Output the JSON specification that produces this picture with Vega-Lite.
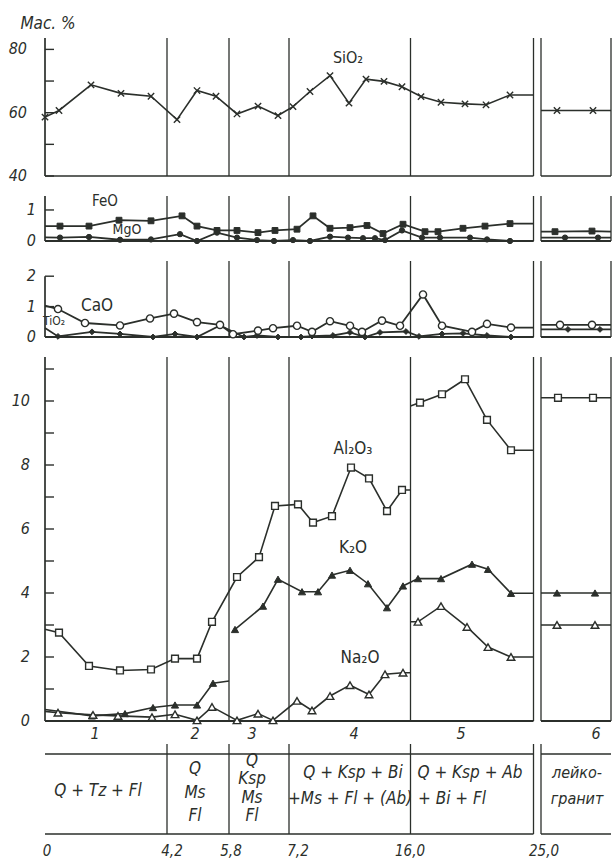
{
 "$schema": "https://vega.github.io/schema/vega-lite/v6.json",
 "autosize": {"type": "pad"},
 "padding": 0,
 "background": "#ffffff",
 "spacing": 20,
 "bounds": "flush",
 "config": {
  "view": {"stroke": null},
  "text": {"font": "Liberation Sans Narrow, DejaVu Sans Condensed, Liberation Sans, sans-serif", "color": "#2b2f2b"}
 },
 "datasets": {
  "zl": [{"p": 122}, {"p": 184}, {"p": 244}, {"p": 365.5}, {"p": 488.5}, {"p": 496}, {"p": 566}],
  "tl": [{"p": 122}, {"p": 184}, {"p": 244}, {"p": 365.5}, {"p": 488.5}, {"p": 496}],
  "bl": [{"a": 0, "b": 488.5}, {"a": 496, "b": 566}],
  "zn": [{"z": "1", "p": 50}, {"z": "2", "p": 150}, {"z": "3", "p": 207}, {"z": "4", "p": 309}, {"z": "5", "p": 416}, {"z": "6", "p": 551}],
  "bt": [{"t": "0", "p": 2}, {"t": "4,2", "p": 127}, {"t": "5,8", "p": 186}, {"t": "7,2", "p": 253}, {"t": "16,0", "p": 365}, {"t": "25,0", "p": 499}],
  "ax": [
   {"k": "si", "v": 40, "t": "40"}, {"k": "si", "v": 50, "t": ""}, {"k": "si", "v": 60, "t": "60"}, {"k": "si", "v": 70, "t": ""}, {"k": "si", "v": 80, "t": "80"},
   {"k": "fe", "v": 0, "t": "0"}, {"k": "fe", "v": 1, "t": "1"},
   {"k": "ca", "v": 0, "t": "0"}, {"k": "ca", "v": 1, "t": "1"}, {"k": "ca", "v": 2, "t": "2"},
   {"k": "bg", "v": 0, "t": "0"}, {"k": "bg", "v": 1, "t": ""}, {"k": "bg", "v": 2, "t": "2"}, {"k": "bg", "v": 3, "t": ""}, {"k": "bg", "v": 4, "t": "4"}, {"k": "bg", "v": 5, "t": ""},
   {"k": "bg", "v": 6, "t": "6"}, {"k": "bg", "v": 7, "t": ""}, {"k": "bg", "v": 8, "t": "8"}, {"k": "bg", "v": 9, "t": ""}, {"k": "bg", "v": 10, "t": "10"}, {"k": "bg", "v": 11, "t": ""}
  ],
  "obs": [
   {"s": "SiO2", "g": "si1", "p": 0, "v": 58.6, "m": 1},
   {"s": "SiO2", "g": "si1", "p": 14, "v": 60.7, "m": 1},
   {"s": "SiO2", "g": "si1", "p": 46, "v": 68.8, "m": 1},
   {"s": "SiO2", "g": "si1", "p": 76, "v": 66.1, "m": 1},
   {"s": "SiO2", "g": "si1", "p": 106, "v": 65.2, "m": 1},
   {"s": "SiO2", "g": "si1", "p": 132, "v": 57.8, "m": 1},
   {"s": "SiO2", "g": "si1", "p": 152, "v": 67.0, "m": 1},
   {"s": "SiO2", "g": "si1", "p": 171, "v": 65.2, "m": 1},
   {"s": "SiO2", "g": "si1", "p": 192, "v": 59.6, "m": 1},
   {"s": "SiO2", "g": "si1", "p": 213, "v": 62.1, "m": 1},
   {"s": "SiO2", "g": "si1", "p": 233, "v": 59.1, "m": 1},
   {"s": "SiO2", "g": "si1", "p": 248, "v": 61.9, "m": 1},
   {"s": "SiO2", "g": "si1", "p": 265, "v": 66.7, "m": 1},
   {"s": "SiO2", "g": "si1", "p": 285, "v": 71.7, "m": 1},
   {"s": "SiO2", "g": "si1", "p": 304, "v": 63.0, "m": 1},
   {"s": "SiO2", "g": "si1", "p": 321, "v": 70.6, "m": 1},
   {"s": "SiO2", "g": "si1", "p": 339, "v": 69.9, "m": 1},
   {"s": "SiO2", "g": "si1", "p": 357, "v": 68.2, "m": 1},
   {"s": "SiO2", "g": "si1", "p": 376, "v": 65.1, "m": 1},
   {"s": "SiO2", "g": "si1", "p": 396, "v": 63.3, "m": 1},
   {"s": "SiO2", "g": "si1", "p": 420, "v": 62.8, "m": 1},
   {"s": "SiO2", "g": "si1", "p": 441, "v": 62.5, "m": 1},
   {"s": "SiO2", "g": "si1", "p": 465, "v": 65.6, "m": 1},
   {"s": "SiO2", "g": "si1", "p": 488.5, "v": 65.6, "m": 0},
   {"s": "SiO2", "g": "si6", "p": 496, "v": 60.7, "m": 0},
   {"s": "SiO2", "g": "si6", "p": 512, "v": 60.7, "m": 1},
   {"s": "SiO2", "g": "si6", "p": 548, "v": 60.7, "m": 1},
   {"s": "SiO2", "g": "si6", "p": 566, "v": 60.7, "m": 0},

   {"s": "FeO", "g": "fe1", "p": 0, "v": 0.48, "m": 0},
   {"s": "FeO", "g": "fe1", "p": 15, "v": 0.48, "m": 1},
   {"s": "FeO", "g": "fe1", "p": 44, "v": 0.48, "m": 1},
   {"s": "FeO", "g": "fe1", "p": 74, "v": 0.67, "m": 1},
   {"s": "FeO", "g": "fe1", "p": 106, "v": 0.65, "m": 1},
   {"s": "FeO", "g": "fe1", "p": 137, "v": 0.81, "m": 1},
   {"s": "FeO", "g": "fe1", "p": 152, "v": 0.48, "m": 1},
   {"s": "FeO", "g": "fe1", "p": 172, "v": 0.34, "m": 1},
   {"s": "FeO", "g": "fe1", "p": 192, "v": 0.34, "m": 1},
   {"s": "FeO", "g": "fe1", "p": 213, "v": 0.27, "m": 1},
   {"s": "FeO", "g": "fe1", "p": 230, "v": 0.34, "m": 1},
   {"s": "FeO", "g": "fe1", "p": 252, "v": 0.38, "m": 1},
   {"s": "FeO", "g": "fe1", "p": 268, "v": 0.81, "m": 1},
   {"s": "FeO", "g": "fe1", "p": 285, "v": 0.41, "m": 1},
   {"s": "FeO", "g": "fe1", "p": 305, "v": 0.43, "m": 1},
   {"s": "FeO", "g": "fe1", "p": 322, "v": 0.5, "m": 1},
   {"s": "FeO", "g": "fe1", "p": 338, "v": 0.24, "m": 1},
   {"s": "FeO", "g": "fe1", "p": 358, "v": 0.54, "m": 1},
   {"s": "FeO", "g": "fe1", "p": 380, "v": 0.3, "m": 1},
   {"s": "FeO", "g": "fe1", "p": 393, "v": 0.3, "m": 1},
   {"s": "FeO", "g": "fe1", "p": 418, "v": 0.41, "m": 1},
   {"s": "FeO", "g": "fe1", "p": 440, "v": 0.48, "m": 1},
   {"s": "FeO", "g": "fe1", "p": 465, "v": 0.56, "m": 1},
   {"s": "FeO", "g": "fe1", "p": 488.5, "v": 0.56, "m": 0},
   {"s": "FeO", "g": "fe6", "p": 496, "v": 0.3, "m": 0},
   {"s": "FeO", "g": "fe6", "p": 510, "v": 0.3, "m": 1},
   {"s": "FeO", "g": "fe6", "p": 547, "v": 0.32, "m": 1},
   {"s": "FeO", "g": "fe6", "p": 566, "v": 0.3, "m": 0},

   {"s": "MgO", "g": "mg1", "p": 0, "v": 0.12, "m": 0},
   {"s": "MgO", "g": "mg1", "p": 15, "v": 0.11, "m": 1},
   {"s": "MgO", "g": "mg1", "p": 44, "v": 0.13, "m": 1},
   {"s": "MgO", "g": "mg1", "p": 75, "v": 0.04, "m": 1},
   {"s": "MgO", "g": "mg1", "p": 106, "v": 0.05, "m": 1},
   {"s": "MgO", "g": "mg1", "p": 135, "v": 0.22, "m": 1},
   {"s": "MgO", "g": "mg1", "p": 152, "v": 0.0, "m": 1},
   {"s": "MgO", "g": "mg1", "p": 172, "v": 0.27, "m": 1},
   {"s": "MgO", "g": "mg1", "p": 192, "v": 0.11, "m": 1},
   {"s": "MgO", "g": "mg1", "p": 212, "v": 0.03, "m": 1},
   {"s": "MgO", "g": "mg1", "p": 229, "v": 0.0, "m": 1},
   {"s": "MgO", "g": "mg1", "p": 248, "v": 0.03, "m": 1},
   {"s": "MgO", "g": "mg1", "p": 265, "v": 0.0, "m": 1},
   {"s": "MgO", "g": "mg1", "p": 285, "v": 0.14, "m": 1},
   {"s": "MgO", "g": "mg1", "p": 303, "v": 0.11, "m": 1},
   {"s": "MgO", "g": "mg1", "p": 318, "v": 0.09, "m": 1},
   {"s": "MgO", "g": "mg1", "p": 330, "v": 0.09, "m": 1},
   {"s": "MgO", "g": "mg1", "p": 340, "v": 0.03, "m": 1},
   {"s": "MgO", "g": "mg1", "p": 357, "v": 0.34, "m": 1},
   {"s": "MgO", "g": "mg1", "p": 377, "v": 0.11, "m": 1},
   {"s": "MgO", "g": "mg1", "p": 395, "v": 0.11, "m": 1},
   {"s": "MgO", "g": "mg1", "p": 425, "v": 0.11, "m": 1},
   {"s": "MgO", "g": "mg1", "p": 442, "v": 0.05, "m": 1},
   {"s": "MgO", "g": "mg1", "p": 465, "v": 0.0, "m": 1},
   {"s": "MgO", "g": "mg1", "p": 488.5, "v": 0.0, "m": 0},
   {"s": "MgO", "g": "mg6", "p": 496, "v": 0.11, "m": 0},
   {"s": "MgO", "g": "mg6", "p": 520, "v": 0.11, "m": 1},
   {"s": "MgO", "g": "mg6", "p": 553, "v": 0.11, "m": 1},
   {"s": "MgO", "g": "mg6", "p": 566, "v": 0.11, "m": 0},

   {"s": "CaO", "g": "ca1", "p": 0, "v": 1.03, "m": 0},
   {"s": "CaO", "g": "ca1", "p": 13, "v": 0.92, "m": 1},
   {"s": "CaO", "g": "ca1", "p": 40, "v": 0.46, "m": 1},
   {"s": "CaO", "g": "ca1", "p": 75, "v": 0.38, "m": 1},
   {"s": "CaO", "g": "ca1", "p": 105, "v": 0.61, "m": 1},
   {"s": "CaO", "g": "ca1", "p": 129, "v": 0.77, "m": 1},
   {"s": "CaO", "g": "ca1", "p": 152, "v": 0.49, "m": 1},
   {"s": "CaO", "g": "ca1", "p": 175, "v": 0.4, "m": 1},
   {"s": "CaO", "g": "ca1", "p": 188, "v": 0.09, "m": 1},
   {"s": "CaO", "g": "ca1", "p": 213, "v": 0.21, "m": 1},
   {"s": "CaO", "g": "ca1", "p": 228, "v": 0.29, "m": 1},
   {"s": "CaO", "g": "ca1", "p": 252, "v": 0.37, "m": 1},
   {"s": "CaO", "g": "ca1", "p": 267, "v": 0.17, "m": 1},
   {"s": "CaO", "g": "ca1", "p": 285, "v": 0.52, "m": 1},
   {"s": "CaO", "g": "ca1", "p": 305, "v": 0.37, "m": 1},
   {"s": "CaO", "g": "ca1", "p": 317, "v": 0.17, "m": 1},
   {"s": "CaO", "g": "ca1", "p": 337, "v": 0.54, "m": 1},
   {"s": "CaO", "g": "ca1", "p": 355, "v": 0.37, "m": 1},
   {"s": "CaO", "g": "ca1", "p": 378, "v": 1.4, "m": 1},
   {"s": "CaO", "g": "ca1", "p": 397, "v": 0.37, "m": 1},
   {"s": "CaO", "g": "ca1", "p": 427, "v": 0.17, "m": 1},
   {"s": "CaO", "g": "ca1", "p": 442, "v": 0.43, "m": 1},
   {"s": "CaO", "g": "ca1", "p": 466, "v": 0.31, "m": 1},
   {"s": "CaO", "g": "ca1", "p": 488.5, "v": 0.31, "m": 0},
   {"s": "CaO", "g": "ca6", "p": 496, "v": 0.4, "m": 0},
   {"s": "CaO", "g": "ca6", "p": 515, "v": 0.4, "m": 1},
   {"s": "CaO", "g": "ca6", "p": 547, "v": 0.4, "m": 1},
   {"s": "CaO", "g": "ca6", "p": 566, "v": 0.4, "m": 0},

   {"s": "TiO2", "g": "ti1", "p": 0, "v": 0.3, "m": 0},
   {"s": "TiO2", "g": "ti1", "p": 13, "v": 0.02, "m": 1},
   {"s": "TiO2", "g": "ti1", "p": 47, "v": 0.17, "m": 1},
   {"s": "TiO2", "g": "ti1", "p": 75, "v": 0.1, "m": 1},
   {"s": "TiO2", "g": "ti1", "p": 108, "v": 0.0, "m": 1},
   {"s": "TiO2", "g": "ti1", "p": 130, "v": 0.1, "m": 1},
   {"s": "TiO2", "g": "ti1", "p": 152, "v": 0.0, "m": 1},
   {"s": "TiO2", "g": "ti1", "p": 175, "v": 0.38, "m": 1},
   {"s": "TiO2", "g": "ti1", "p": 199, "v": 0.0, "m": 1},
   {"s": "TiO2", "g": "ti1", "p": 212, "v": 0.05, "m": 1},
   {"s": "TiO2", "g": "ti1", "p": 233, "v": 0.0, "m": 1},
   {"s": "TiO2", "g": "ti1", "p": 256, "v": 0.0, "m": 1},
   {"s": "TiO2", "g": "ti1", "p": 267, "v": 0.03, "m": 1},
   {"s": "TiO2", "g": "ti1", "p": 288, "v": 0.05, "m": 1},
   {"s": "TiO2", "g": "ti1", "p": 305, "v": 0.15, "m": 1},
   {"s": "TiO2", "g": "ti1", "p": 320, "v": 0.0, "m": 1},
   {"s": "TiO2", "g": "ti1", "p": 335, "v": 0.15, "m": 1},
   {"s": "TiO2", "g": "ti1", "p": 361, "v": 0.18, "m": 1},
   {"s": "TiO2", "g": "ti1", "p": 374, "v": 0.02, "m": 1},
   {"s": "TiO2", "g": "ti1", "p": 397, "v": 0.1, "m": 1},
   {"s": "TiO2", "g": "ti1", "p": 418, "v": 0.12, "m": 1},
   {"s": "TiO2", "g": "ti1", "p": 442, "v": 0.05, "m": 1},
   {"s": "TiO2", "g": "ti1", "p": 466, "v": 0.0, "m": 1},
   {"s": "TiO2", "g": "ti1", "p": 488.5, "v": 0.0, "m": 0},
   {"s": "TiO2", "g": "ti6", "p": 496, "v": 0.25, "m": 0},
   {"s": "TiO2", "g": "ti6", "p": 523, "v": 0.25, "m": 1},
   {"s": "TiO2", "g": "ti6", "p": 555, "v": 0.25, "m": 1},
   {"s": "TiO2", "g": "ti6", "p": 566, "v": 0.25, "m": 0},

   {"s": "Al2O3", "g": "al1", "p": 0, "v": 2.87, "m": 0},
   {"s": "Al2O3", "g": "al1", "p": 14, "v": 2.76, "m": 1},
   {"s": "Al2O3", "g": "al1", "p": 44, "v": 1.72, "m": 1},
   {"s": "Al2O3", "g": "al1", "p": 75, "v": 1.58, "m": 1},
   {"s": "Al2O3", "g": "al1", "p": 106, "v": 1.61, "m": 1},
   {"s": "Al2O3", "g": "al1", "p": 130, "v": 1.95, "m": 1},
   {"s": "Al2O3", "g": "al1", "p": 152, "v": 1.95, "m": 1},
   {"s": "Al2O3", "g": "al1", "p": 167, "v": 3.1, "m": 1},
   {"s": "Al2O3", "g": "al1", "p": 192, "v": 4.5, "m": 1},
   {"s": "Al2O3", "g": "al1", "p": 214, "v": 5.12, "m": 1},
   {"s": "Al2O3", "g": "al1", "p": 230, "v": 6.72, "m": 1},
   {"s": "Al2O3", "g": "al1", "p": 253, "v": 6.77, "m": 1},
   {"s": "Al2O3", "g": "al1", "p": 268, "v": 6.2, "m": 1},
   {"s": "Al2O3", "g": "al1", "p": 287, "v": 6.4, "m": 1},
   {"s": "Al2O3", "g": "al1", "p": 306, "v": 7.92, "m": 1},
   {"s": "Al2O3", "g": "al1", "p": 324, "v": 7.58, "m": 1},
   {"s": "Al2O3", "g": "al1", "p": 342, "v": 6.56, "m": 1},
   {"s": "Al2O3", "g": "al1", "p": 357, "v": 7.22, "m": 1},
   {"s": "Al2O3", "g": "al1", "p": 365.5, "v": 7.22, "m": 0},
   {"s": "Al2O3", "g": "al5", "p": 365.5, "v": 9.84, "m": 0},
   {"s": "Al2O3", "g": "al5", "p": 375, "v": 9.95, "m": 1},
   {"s": "Al2O3", "g": "al5", "p": 397, "v": 10.21, "m": 1},
   {"s": "Al2O3", "g": "al5", "p": 420, "v": 10.68, "m": 1},
   {"s": "Al2O3", "g": "al5", "p": 442, "v": 9.41, "m": 1},
   {"s": "Al2O3", "g": "al5", "p": 466, "v": 8.46, "m": 1},
   {"s": "Al2O3", "g": "al5", "p": 488.5, "v": 8.46, "m": 0},
   {"s": "Al2O3", "g": "al6", "p": 496, "v": 10.1, "m": 0},
   {"s": "Al2O3", "g": "al6", "p": 513, "v": 10.1, "m": 1},
   {"s": "Al2O3", "g": "al6", "p": 548, "v": 10.1, "m": 1},
   {"s": "Al2O3", "g": "al6", "p": 566, "v": 10.1, "m": 0},

   {"s": "K2O", "g": "k1", "p": 0, "v": 0.36, "m": 0},
   {"s": "K2O", "g": "k1", "p": 47, "v": 0.16, "m": 1},
   {"s": "K2O", "g": "k1", "p": 80, "v": 0.23, "m": 1},
   {"s": "K2O", "g": "k1", "p": 108, "v": 0.42, "m": 1},
   {"s": "K2O", "g": "k1", "p": 130, "v": 0.5, "m": 1},
   {"s": "K2O", "g": "k1", "p": 152, "v": 0.5, "m": 1},
   {"s": "K2O", "g": "k1", "p": 168, "v": 1.18, "m": 1},
   {"s": "K2O", "g": "k1", "p": 184, "v": 1.25, "m": 0},
   {"s": "K2O", "g": "k3", "p": 190, "v": 2.86, "m": 1},
   {"s": "K2O", "g": "k3", "p": 218, "v": 3.59, "m": 1},
   {"s": "K2O", "g": "k3", "p": 233, "v": 4.43, "m": 1},
   {"s": "K2O", "g": "k3", "p": 257, "v": 4.04, "m": 1},
   {"s": "K2O", "g": "k3", "p": 273, "v": 4.04, "m": 1},
   {"s": "K2O", "g": "k3", "p": 287, "v": 4.56, "m": 1},
   {"s": "K2O", "g": "k3", "p": 305, "v": 4.71, "m": 1},
   {"s": "K2O", "g": "k3", "p": 323, "v": 4.29, "m": 1},
   {"s": "K2O", "g": "k3", "p": 342, "v": 3.54, "m": 1},
   {"s": "K2O", "g": "k3", "p": 358, "v": 4.22, "m": 1},
   {"s": "K2O", "g": "k3", "p": 373, "v": 4.45, "m": 1},
   {"s": "K2O", "g": "k3", "p": 396, "v": 4.45, "m": 1},
   {"s": "K2O", "g": "k3", "p": 427, "v": 4.9, "m": 1},
   {"s": "K2O", "g": "k3", "p": 443, "v": 4.74, "m": 1},
   {"s": "K2O", "g": "k3", "p": 466, "v": 3.99, "m": 1},
   {"s": "K2O", "g": "k3", "p": 488.5, "v": 3.99, "m": 0},
   {"s": "K2O", "g": "k6", "p": 496, "v": 4.0, "m": 0},
   {"s": "K2O", "g": "k6", "p": 512, "v": 4.0, "m": 1},
   {"s": "K2O", "g": "k6", "p": 550, "v": 4.0, "m": 1},
   {"s": "K2O", "g": "k6", "p": 566, "v": 4.0, "m": 0},

   {"s": "Na2O", "g": "na1", "p": 0, "v": 0.3, "m": 0},
   {"s": "Na2O", "g": "na1", "p": 13, "v": 0.26, "m": 1},
   {"s": "Na2O", "g": "na1", "p": 48, "v": 0.19, "m": 1},
   {"s": "Na2O", "g": "na1", "p": 73, "v": 0.16, "m": 1},
   {"s": "Na2O", "g": "na1", "p": 107, "v": 0.12, "m": 1},
   {"s": "Na2O", "g": "na1", "p": 130, "v": 0.21, "m": 1},
   {"s": "Na2O", "g": "na1", "p": 152, "v": 0.02, "m": 1},
   {"s": "Na2O", "g": "na1", "p": 167, "v": 0.44, "m": 1},
   {"s": "Na2O", "g": "na1", "p": 192, "v": 0.02, "m": 1},
   {"s": "Na2O", "g": "na1", "p": 213, "v": 0.23, "m": 1},
   {"s": "Na2O", "g": "na1", "p": 228, "v": 0.02, "m": 1},
   {"s": "Na2O", "g": "na1", "p": 252, "v": 0.63, "m": 1},
   {"s": "Na2O", "g": "na1", "p": 267, "v": 0.33, "m": 1},
   {"s": "Na2O", "g": "na1", "p": 285, "v": 0.78, "m": 1},
   {"s": "Na2O", "g": "na1", "p": 305, "v": 1.12, "m": 1},
   {"s": "Na2O", "g": "na1", "p": 324, "v": 0.83, "m": 1},
   {"s": "Na2O", "g": "na1", "p": 340, "v": 1.46, "m": 1},
   {"s": "Na2O", "g": "na1", "p": 358, "v": 1.51, "m": 1},
   {"s": "Na2O", "g": "na1", "p": 365.5, "v": 1.51, "m": 0},
   {"s": "Na2O", "g": "na5", "p": 365.5, "v": 3.1, "m": 0},
   {"s": "Na2O", "g": "na5", "p": 373, "v": 3.1, "m": 1},
   {"s": "Na2O", "g": "na5", "p": 396, "v": 3.59, "m": 1},
   {"s": "Na2O", "g": "na5", "p": 422, "v": 2.94, "m": 1},
   {"s": "Na2O", "g": "na5", "p": 443, "v": 2.31, "m": 1},
   {"s": "Na2O", "g": "na5", "p": 466, "v": 2.0, "m": 1},
   {"s": "Na2O", "g": "na5", "p": 488.5, "v": 2.0, "m": 0},
   {"s": "Na2O", "g": "na6", "p": 496, "v": 3.0, "m": 0},
   {"s": "Na2O", "g": "na6", "p": 512, "v": 3.0, "m": 1},
   {"s": "Na2O", "g": "na6", "p": 550, "v": 3.0, "m": 1},
   {"s": "Na2O", "g": "na6", "p": 566, "v": 3.0, "m": 0}
  ]
 },
 "vconcat": [
  {
   "width": 568, "height": 138,
   "layer": [
    {"data": {"name": "zl"}, "mark": {"type": "rule", "color": "#2b2f2b", "strokeWidth": 1.3},
     "encoding": {"x": {"field": "p", "type": "quantitative", "scale": {"domain": [0, 568], "nice": false, "zero": false}, "axis": null}}},
    {"data": {"name": "obs"}, "transform": [{"filter": "datum.s == 'SiO2'"}], "mark": {"type": "line", "color": "#2b2f2b", "strokeWidth": 1.6},
     "encoding": {"x": {"field": "p", "type": "quantitative", "axis": null},
      "y": {"field": "v", "type": "quantitative", "scale": {"domain": [40, 83.6], "nice": false, "zero": false}, "axis": null},
      "detail": {"field": "g", "type": "nominal"}}},
    {"data": {"values": [{}]}, "mark": {"type": "rule", "color": "#ffffff", "opacity": 0, "strokeWidth": 0.1},
     "encoding": {"x": {"datum": -45, "type": "quantitative", "axis": null}, "x2": {"datum": 568}, "y": {"datum": 95.3, "type": "quantitative", "axis": null}}},
    {"data": {"values": [{}]}, "mark": {"type": "rule", "color": "#2b2f2b", "strokeWidth": 1.7},
     "encoding": {"x": {"datum": 0, "type": "quantitative", "axis": null}, "y": {"datum": 40, "type": "quantitative", "axis": null}, "y2": {"datum": 83.6}}},
    {"data": {"name": "ax"}, "transform": [{"filter": "datum.k == 'si'"}], "mark": {"type": "rule", "color": "#2b2f2b", "strokeWidth": 1.4},
     "encoding": {"x": {"datum": 0, "type": "quantitative", "axis": null}, "x2": {"datum": 9}, "y": {"field": "v", "type": "quantitative", "axis": null}}},
    {"data": {"name": "ax"}, "transform": [{"filter": "datum.k == 'si'"}], "mark": {"type": "text", "align": "right", "fontSize": 16, "fontStyle": "italic"},
     "encoding": {"x": {"datum": -18, "type": "quantitative", "axis": null}, "y": {"field": "v", "type": "quantitative", "axis": null}, "text": {"field": "t", "type": "nominal"}}},
    {"data": {"name": "bl"}, "mark": {"type": "rule", "color": "#2b2f2b", "strokeWidth": 1.7},
     "encoding": {"x": {"field": "a", "type": "quantitative", "axis": null}, "x2": {"field": "b"}, "y": {"datum": 40, "type": "quantitative", "axis": null}}},
    {"data": {"name": "obs"}, "transform": [{"filter": "datum.s == 'SiO2' && datum.m == 1"}], "mark": {"type": "point", "shape": "M-1,-1L1,1M-1,1L1,-1", "size": 40, "filled": false, "opacity": 1, "stroke": "#2b2f2b", "strokeWidth": 1.4},
     "encoding": {"x": {"field": "p", "type": "quantitative", "axis": null}, "y": {"field": "v", "type": "quantitative", "axis": null}}},
    {"data": {"values": [{}]}, "mark": {"type": "text", "text": "SiO₂", "fontSize": 16},
     "encoding": {"x": {"datum": 303, "type": "quantitative", "axis": null}, "y": {"datum": 77.3, "type": "quantitative", "axis": null}}},
    {"data": {"values": [{}]}, "mark": {"type": "text", "text": "Мас. %", "fontSize": 17, "fontStyle": "italic"},
     "encoding": {"x": {"datum": 3, "type": "quantitative", "axis": null}, "y": {"datum": 87.9, "type": "quantitative", "axis": null}}}
   ]
  },
  {
   "width": 568, "height": 45,
   "layer": [
    {"data": {"name": "zl"}, "mark": {"type": "rule", "color": "#2b2f2b", "strokeWidth": 1.3},
     "encoding": {"x": {"field": "p", "type": "quantitative", "scale": {"domain": [0, 568], "nice": false, "zero": false}, "axis": null}}},
    {"data": {"name": "obs"}, "transform": [{"filter": "datum.s == 'FeO' || datum.s == 'MgO'"}], "mark": {"type": "line", "color": "#2b2f2b", "strokeWidth": 1.8},
     "encoding": {"x": {"field": "p", "type": "quantitative", "axis": null},
      "y": {"field": "v", "type": "quantitative", "scale": {"domain": [0, 1.45], "nice": false, "zero": false}, "axis": null},
      "detail": {"field": "g", "type": "nominal"}}},
    {"data": {"values": [{}]}, "mark": {"type": "rule", "color": "#2b2f2b", "strokeWidth": 1.7},
     "encoding": {"x": {"datum": 0, "type": "quantitative", "axis": null}, "y": {"datum": 0, "type": "quantitative", "axis": null}, "y2": {"datum": 1.45}}},
    {"data": {"name": "ax"}, "transform": [{"filter": "datum.k == 'fe'"}], "mark": {"type": "rule", "color": "#2b2f2b", "strokeWidth": 1.4},
     "encoding": {"x": {"datum": 0, "type": "quantitative", "axis": null}, "x2": {"datum": 9}, "y": {"field": "v", "type": "quantitative", "axis": null}}},
    {"data": {"name": "ax"}, "transform": [{"filter": "datum.k == 'fe'"}], "mark": {"type": "text", "align": "right", "fontSize": 16, "fontStyle": "italic"},
     "encoding": {"x": {"datum": -9, "type": "quantitative", "axis": null}, "y": {"field": "v", "type": "quantitative", "axis": null}, "text": {"field": "t", "type": "nominal"}}},
    {"data": {"name": "bl"}, "mark": {"type": "rule", "color": "#2b2f2b", "strokeWidth": 2},
     "encoding": {"x": {"field": "a", "type": "quantitative", "axis": null}, "x2": {"field": "b"}, "y": {"datum": 0, "type": "quantitative", "axis": null}}},
    {"data": {"name": "obs"}, "transform": [{"filter": "datum.s == 'FeO' && datum.m == 1"}], "mark": {"type": "point", "shape": "square", "size": 34, "filled": true, "fill": "#2b2f2b", "opacity": 1, "stroke": "#2b2f2b", "strokeWidth": 1},
     "encoding": {"x": {"field": "p", "type": "quantitative", "axis": null}, "y": {"field": "v", "type": "quantitative", "axis": null}}},
    {"data": {"name": "obs"}, "transform": [{"filter": "datum.s == 'MgO' && datum.m == 1"}], "mark": {"type": "point", "shape": "circle", "size": 28, "filled": true, "fill": "#2b2f2b", "opacity": 1, "stroke": "#2b2f2b", "strokeWidth": 1},
     "encoding": {"x": {"field": "p", "type": "quantitative", "axis": null}, "y": {"field": "v", "type": "quantitative", "axis": null}}},
    {"data": {"values": [{}]}, "mark": {"type": "text", "text": "FeO", "fontSize": 15},
     "encoding": {"x": {"datum": 60, "type": "quantitative", "axis": null}, "y": {"datum": 1.3, "type": "quantitative", "axis": null}}},
    {"data": {"values": [{}]}, "mark": {"type": "text", "text": "MgO", "fontSize": 14},
     "encoding": {"x": {"datum": 82, "type": "quantitative", "axis": null}, "y": {"datum": 0.36, "type": "quantitative", "axis": null}}}
   ]
  },
  {
   "width": 568, "height": 76,
   "layer": [
    {"data": {"name": "zl"}, "mark": {"type": "rule", "color": "#2b2f2b", "strokeWidth": 1.3},
     "encoding": {"x": {"field": "p", "type": "quantitative", "scale": {"domain": [0, 568], "nice": false, "zero": false}, "axis": null}}},
    {"data": {"name": "obs"}, "transform": [{"filter": "datum.s == 'CaO' || datum.s == 'TiO2'"}], "mark": {"type": "line", "color": "#2b2f2b", "strokeWidth": 1.8},
     "encoding": {"x": {"field": "p", "type": "quantitative", "axis": null},
      "y": {"field": "v", "type": "quantitative", "scale": {"domain": [0, 2.5], "nice": false, "zero": false}, "axis": null},
      "detail": {"field": "g", "type": "nominal"}}},
    {"data": {"values": [{}]}, "mark": {"type": "rule", "color": "#2b2f2b", "strokeWidth": 1.7},
     "encoding": {"x": {"datum": 0, "type": "quantitative", "axis": null}, "y": {"datum": 0, "type": "quantitative", "axis": null}, "y2": {"datum": 2}}},
    {"data": {"name": "ax"}, "transform": [{"filter": "datum.k == 'ca'"}], "mark": {"type": "rule", "color": "#2b2f2b", "strokeWidth": 1.4},
     "encoding": {"x": {"datum": 0, "type": "quantitative", "axis": null}, "x2": {"datum": 9}, "y": {"field": "v", "type": "quantitative", "axis": null}}},
    {"data": {"name": "ax"}, "transform": [{"filter": "datum.k == 'ca'"}], "mark": {"type": "text", "align": "right", "fontSize": 16, "fontStyle": "italic"},
     "encoding": {"x": {"datum": -9, "type": "quantitative", "axis": null}, "y": {"field": "v", "type": "quantitative", "axis": null}, "text": {"field": "t", "type": "nominal"}}},
    {"data": {"name": "bl"}, "mark": {"type": "rule", "color": "#2b2f2b", "strokeWidth": 2},
     "encoding": {"x": {"field": "a", "type": "quantitative", "axis": null}, "x2": {"field": "b"}, "y": {"datum": 0, "type": "quantitative", "axis": null}}},
    {"data": {"name": "obs"}, "transform": [{"filter": "datum.s == 'TiO2' && datum.m == 1"}], "mark": {"type": "point", "shape": "diamond", "size": 34, "filled": true, "fill": "#2b2f2b", "opacity": 1, "stroke": "#2b2f2b", "strokeWidth": 1},
     "encoding": {"x": {"field": "p", "type": "quantitative", "axis": null}, "y": {"field": "v", "type": "quantitative", "axis": null}}},
    {"data": {"name": "obs"}, "transform": [{"filter": "datum.s == 'CaO' && datum.m == 1"}], "mark": {"type": "point", "shape": "circle", "size": 52, "filled": true, "fill": "#ffffff", "opacity": 1, "stroke": "#2b2f2b", "strokeWidth": 1.4},
     "encoding": {"x": {"field": "p", "type": "quantitative", "axis": null}, "y": {"field": "v", "type": "quantitative", "axis": null}}},
    {"data": {"values": [{}]}, "mark": {"type": "text", "text": "CaO", "fontSize": 17},
     "encoding": {"x": {"datum": 52, "type": "quantitative", "axis": null}, "y": {"datum": 1.02, "type": "quantitative", "axis": null}}},
    {"data": {"values": [{}]}, "mark": {"type": "text", "text": "TiO₂", "fontSize": 12},
     "encoding": {"x": {"datum": 9, "type": "quantitative", "axis": null}, "y": {"datum": 0.53, "type": "quantitative", "axis": null}}}
   ]
  },
  {
   "width": 568, "height": 364,
   "layer": [
    {"data": {"name": "zl"}, "mark": {"type": "rule", "color": "#2b2f2b", "strokeWidth": 1.3},
     "encoding": {"x": {"field": "p", "type": "quantitative", "scale": {"domain": [0, 568], "nice": false, "zero": false}, "axis": null}}},
    {"data": {"name": "obs"}, "transform": [{"filter": "datum.s == 'Al2O3' || datum.s == 'K2O' || datum.s == 'Na2O'"}], "mark": {"type": "line", "color": "#2b2f2b", "strokeWidth": 1.6},
     "encoding": {"x": {"field": "p", "type": "quantitative", "axis": null},
      "y": {"field": "v", "type": "quantitative", "scale": {"domain": [0, 11.375], "nice": false, "zero": false}, "axis": null},
      "detail": {"field": "g", "type": "nominal"}}},
    {"data": {"values": [{}]}, "mark": {"type": "rule", "color": "#2b2f2b", "strokeWidth": 1.7},
     "encoding": {"x": {"datum": 0, "type": "quantitative", "axis": null}, "y": {"datum": 0, "type": "quantitative", "axis": null}, "y2": {"datum": 11.375}}},
    {"data": {"name": "ax"}, "transform": [{"filter": "datum.k == 'bg'"}], "mark": {"type": "rule", "color": "#2b2f2b", "strokeWidth": 1.4},
     "encoding": {"x": {"datum": 0, "type": "quantitative", "axis": null}, "x2": {"datum": 9}, "y": {"field": "v", "type": "quantitative", "axis": null}}},
    {"data": {"name": "ax"}, "transform": [{"filter": "datum.k == 'bg'"}], "mark": {"type": "text", "align": "right", "fontSize": 16, "fontStyle": "italic"},
     "encoding": {"x": {"datum": -15, "type": "quantitative", "axis": null}, "y": {"field": "v", "type": "quantitative", "axis": null}, "text": {"field": "t", "type": "nominal"}}},
    {"data": {"name": "bl"}, "mark": {"type": "rule", "color": "#2b2f2b", "strokeWidth": 1.8},
     "encoding": {"x": {"field": "a", "type": "quantitative", "axis": null}, "x2": {"field": "b"}, "y": {"datum": 0, "type": "quantitative", "axis": null}}},
    {"data": {"name": "obs"}, "transform": [{"filter": "datum.s == 'Al2O3' && datum.m == 1"}], "mark": {"type": "point", "shape": "square", "size": 46, "filled": true, "fill": "#ffffff", "opacity": 1, "stroke": "#2b2f2b", "strokeWidth": 1.4},
     "encoding": {"x": {"field": "p", "type": "quantitative", "axis": null}, "y": {"field": "v", "type": "quantitative", "axis": null}}},
    {"data": {"name": "obs"}, "transform": [{"filter": "datum.s == 'K2O' && datum.m == 1"}], "mark": {"type": "point", "shape": "triangle-up", "size": 52, "filled": true, "fill": "#2b2f2b", "opacity": 1, "stroke": "#2b2f2b", "strokeWidth": 1},
     "encoding": {"x": {"field": "p", "type": "quantitative", "axis": null}, "y": {"field": "v", "type": "quantitative", "axis": null}}},
    {"data": {"name": "obs"}, "transform": [{"filter": "datum.s == 'Na2O' && datum.m == 1"}], "mark": {"type": "point", "shape": "triangle-up", "size": 58, "filled": true, "fill": "#ffffff", "opacity": 1, "stroke": "#2b2f2b", "strokeWidth": 1.4},
     "encoding": {"x": {"field": "p", "type": "quantitative", "axis": null}, "y": {"field": "v", "type": "quantitative", "axis": null}}},
    {"data": {"values": [{}]}, "mark": {"type": "text", "text": "Al₂O₃", "fontSize": 17},
     "encoding": {"x": {"datum": 308, "type": "quantitative", "axis": null}, "y": {"datum": 8.5, "type": "quantitative", "axis": null}}},
    {"data": {"values": [{}]}, "mark": {"type": "text", "text": "K₂O", "fontSize": 17},
     "encoding": {"x": {"datum": 308, "type": "quantitative", "axis": null}, "y": {"datum": 5.4, "type": "quantitative", "axis": null}}},
    {"data": {"values": [{}]}, "mark": {"type": "text", "text": "Na₂O", "fontSize": 17},
     "encoding": {"x": {"datum": 315, "type": "quantitative", "axis": null}, "y": {"datum": 1.97, "type": "quantitative", "axis": null}}}
   ]
  },
  {
   "width": 568, "height": 120,
   "layer": [
    {"data": {"name": "tl"}, "mark": {"type": "rule", "color": "#2b2f2b", "strokeWidth": 1.3},
     "encoding": {"x": {"field": "p", "type": "quantitative", "scale": {"domain": [0, 568], "nice": false, "zero": false}, "axis": null},
      "y": {"datum": 0.3, "type": "quantitative", "scale": {"domain": [0, 12], "reverse": true, "nice": false, "zero": false}, "axis": null},
      "y2": {"datum": 9.3}}},
    {"data": {"name": "bl"}, "mark": {"type": "rule", "color": "#2b2f2b", "strokeWidth": 1.7},
     "encoding": {"x": {"field": "a", "type": "quantitative", "axis": null}, "x2": {"field": "b"}, "y": {"datum": 1.3, "type": "quantitative", "axis": null}}},
    {"data": {"name": "bl"}, "mark": {"type": "rule", "color": "#2b2f2b", "strokeWidth": 1.7},
     "encoding": {"x": {"field": "a", "type": "quantitative", "axis": null}, "x2": {"field": "b"}, "y": {"datum": 9.3, "type": "quantitative", "axis": null}}},
    {"data": {"name": "zn"}, "mark": {"type": "text", "fontSize": 16, "fontStyle": "italic"},
     "encoding": {"x": {"field": "p", "type": "quantitative", "axis": null}, "y": {"datum": -0.7, "type": "quantitative", "axis": null}, "text": {"field": "z", "type": "nominal"}}},
    {"data": {"name": "bt"}, "mark": {"type": "text", "fontSize": 15, "fontStyle": "italic"},
     "encoding": {"x": {"field": "p", "type": "quantitative", "axis": null}, "y": {"datum": 10.95, "type": "quantitative", "axis": null}, "text": {"field": "t", "type": "nominal"}}},
    {"data": {"values": [{}]}, "mark": {"type": "text", "text": "Q + Tz + Fl", "fontSize": 17, "fontStyle": "italic"},
     "encoding": {"x": {"datum": 53, "type": "quantitative", "axis": null}, "y": {"datum": 5.0, "type": "quantitative", "axis": null}}},
    {"data": {"values": [{}]}, "mark": {"type": "text", "text": ["Q", "Ms", "Fl"], "lineHeight": 23.5, "fontSize": 17, "fontStyle": "italic"},
     "encoding": {"x": {"datum": 150, "type": "quantitative", "axis": null}, "y": {"datum": 2.8, "type": "quantitative", "axis": null}}},
    {"data": {"values": [{}]}, "mark": {"type": "text", "text": ["Q", "Ksp", "Ms", "Fl"], "lineHeight": 18.3, "fontSize": 17, "fontStyle": "italic"},
     "encoding": {"x": {"datum": 207, "type": "quantitative", "axis": null}, "y": {"datum": 2.0, "type": "quantitative", "axis": null}}},
    {"data": {"values": [{}]}, "mark": {"type": "text", "text": "Q + Ksp + Bi", "fontSize": 17, "fontStyle": "italic"},
     "encoding": {"x": {"datum": 308, "type": "quantitative", "axis": null}, "y": {"datum": 3.2, "type": "quantitative", "axis": null}}},
    {"data": {"values": [{}]}, "mark": {"type": "text", "text": "+Ms + Fl + (Ab)", "fontSize": 17, "fontStyle": "italic"},
     "encoding": {"x": {"datum": 305, "type": "quantitative", "axis": null}, "y": {"datum": 5.8, "type": "quantitative", "axis": null}}},
    {"data": {"values": [{}]}, "mark": {"type": "text", "text": "Q + Ksp + Ab", "fontSize": 17, "fontStyle": "italic"},
     "encoding": {"x": {"datum": 425, "type": "quantitative", "axis": null}, "y": {"datum": 3.2, "type": "quantitative", "axis": null}}},
    {"data": {"values": [{}]}, "mark": {"type": "text", "text": "+ Bi + Fl", "fontSize": 17, "fontStyle": "italic"},
     "encoding": {"x": {"datum": 407, "type": "quantitative", "axis": null}, "y": {"datum": 5.8, "type": "quantitative", "axis": null}}},
    {"data": {"values": [{}]}, "mark": {"type": "text", "text": ["лейко-", "гранит"], "lineHeight": 26, "fontSize": 16, "fontStyle": "italic"},
     "encoding": {"x": {"datum": 532, "type": "quantitative", "axis": null}, "y": {"datum": 3.2, "type": "quantitative", "axis": null}}}
   ]
  }
 ]
}
